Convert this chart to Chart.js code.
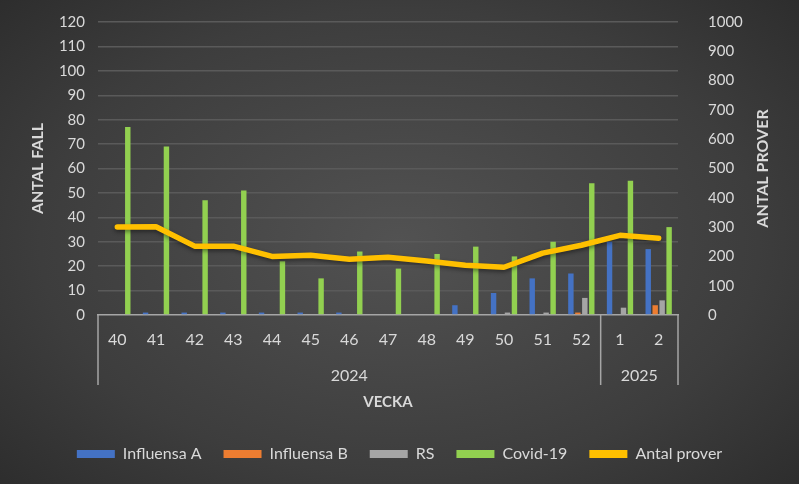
<!DOCTYPE html>
<html>
<head>
<meta charset="utf-8">
<script src="https://cdn.jsdelivr.net/npm/chart.js@4"></script>
<style>
  html, body { margin: 0; padding: 0; }
  body {
    width: 799px;
    height: 484px;
    background: radial-gradient(ellipse 75% 80% at 50% 50%, #525252 0%, #3d3d3d 60%, #292929 100%);
  }
  canvas { display: block; }
</style>
</head>
<body>
<canvas id="chart" width="799" height="484"></canvas>
<script>
// Veckor och år
const weeks = ['40', '41', '42', '43', '44', '45', '46', '47', '48', '49', '50', '51', '52', '1', '2'];
const years = ['2024', '2025'];
const weeksPerYear = [13, 2];

// Antal fall per vecka
const influensaA = [0, 1, 1, 1, 1, 1, 1, 0, 0, 4, 9, 15, 17, 30, 27];
const influensaB = [0, 0, 0, 0, 0, 0, 0, 0, 0, 0, 0, 0, 1, 0, 4];
const rs = [0, 0, 0, 0, 0, 0, 0, 0, 0, 0, 1, 1, 7, 3, 6];
const covid = [77, 69, 47, 51, 22, 15, 26, 19, 25, 28, 24, 30, 54, 55, 36];

// Antal prover (höger axel)
const antalProver = [300, 301, 235, 235, 200, 204, 190, 197, 184, 170, 163, 211, 238, 272, 262];

const textColor = '#d9d9d9';
const fontFamily = 'Lato, "Open Sans", sans-serif';

// Årsgrupper under veckorna + höger axeltitel
const yearGroups = {
  id: 'yearGroups',
  afterDraw(chart) {
    const { ctx, scales: { x }, chartArea } = chart;
    const half = (x.getPixelForValue(1) - x.getPixelForValue(0)) / 2;
    const top = chartArea.bottom;
    const bottom = top + 70;

    ctx.save();
    ctx.strokeStyle = '#a6a6a6';
    ctx.lineWidth = 1.5;
    ctx.fillStyle = textColor;
    ctx.font = '16px ' + fontFamily;
    ctx.textAlign = 'center';
    ctx.textBaseline = 'middle';

    let start = 0;
    let left = x.getPixelForValue(0) - half;
    ctx.beginPath();
    ctx.moveTo(left, top);
    ctx.lineTo(left, bottom);
    ctx.stroke();
    years.forEach((year, i) => {
      const end = start + weeksPerYear[i] - 1;
      const right = x.getPixelForValue(end) + half;
      ctx.beginPath();
      ctx.moveTo(right, top);
      ctx.lineTo(right, bottom);
      ctx.stroke();
      ctx.fillText(year, (left + right) / 2, top + 61);
      left = right;
      start = end + 1;
    });

    // ANTAL PROVER
    ctx.font = 'bold 16px ' + fontFamily;
    ctx.translate(763, (chartArea.top + chartArea.bottom) / 2);
    ctx.rotate(-Math.PI / 2);
    ctx.fillText('ANTAL PROVER', 0, 0);
    ctx.restore();
  }
};

const lineShadow = {
  id: 'lineShadow',
  beforeDatasetDraw(chart, args) {
    if (args.index !== 4) return;
    const ctx = chart.ctx;
    ctx.save();
    ctx.shadowColor = 'rgba(0,0,0,0.45)';
    ctx.shadowBlur = 4;
    ctx.shadowOffsetY = 2;
  },
  afterDatasetDraw(chart, args) {
    if (args.index !== 4) return;
    chart.ctx.restore();
  }
};

const barOpts = {
  categoryPercentage: 0.72,
  barPercentage: 0.78,
  yAxisID: 'y',
  order: 1
};

new Chart(document.getElementById('chart'), {
  type: 'bar',
  data: {
    labels: weeks,
    datasets: [
      { label: 'Influensa A', data: influensaA, backgroundColor: '#4472c4', ...barOpts },
      { label: 'Influensa B', data: influensaB, backgroundColor: '#ed7d31', ...barOpts },
      { label: 'RS', data: rs, backgroundColor: '#a5a5a5', ...barOpts },
      { label: 'Covid-19', data: covid, backgroundColor: '#92d050', ...barOpts },
      {
        type: 'line',
        label: 'Antal prover',
        data: antalProver,
        yAxisID: 'y1',
        borderColor: '#ffc000',
        backgroundColor: '#ffc000',
        borderWidth: 5.5,
        pointRadius: 0,
        tension: 0,
        borderCapStyle: 'round',
        borderJoinStyle: 'round',
        order: 0
      }
    ]
  },
  options: {
    responsive: false,
    animation: false,
    layout: { padding: { top: 22, left: 0, right: 0, bottom: 12 } },
    plugins: {
      legend: {
        position: 'bottom',
        labels: {
          color: textColor,
          font: { family: fontFamily, size: 16 },
          boxWidth: 38,
          boxHeight: 8,
          padding: 22,
          sort: (a, b) => a.datasetIndex - b.datasetIndex,
          generateLabels(chart) {
            const items = Chart.defaults.plugins.legend.labels.generateLabels(chart);
            items.forEach(it => { it.lineWidth = 0; });
            return items;
          }
        }
      },
      tooltip: { enabled: false }
    },
    scales: {
      x: {
        grid: { display: false, drawTicks: false },
        border: { color: '#a6a6a6', width: 1.5 },
        ticks: { color: textColor, font: { family: fontFamily, size: 16 }, padding: 15, maxRotation: 0 },
        title: {
          display: true,
          text: 'VECKA',
          color: textColor,
          font: { family: fontFamily, size: 15, weight: 'bold' },
          padding: { top: 0, bottom: 13 }
        },
        afterFit(scale) { scale.height = 109; }
      },
      y: {
        position: 'left',
        min: 0,
        max: 120,
        ticks: { stepSize: 10, color: textColor, font: { family: fontFamily, size: 15 }, padding: 13 },
        grid: {
          color: ctx => ctx.tick.value === 0 ? 'transparent' : '#5a5a5a',
          lineWidth: 1.5,
          drawTicks: false
        },
        border: { display: false },
        title: {
          display: true,
          text: 'ANTAL FALL',
          color: textColor,
          font: { family: fontFamily, size: 16, weight: 'bold' },
          padding: { top: 28, bottom: 0 }
        },
        afterFit(scale) {
          scale.width = 98;
          scale.paddingTop = 0;
          scale.paddingBottom = 0;
        }
      },
      y1: {
        position: 'right',
        min: 0,
        max: 1000,
        ticks: {
          stepSize: 100,
          color: textColor,
          font: { family: fontFamily, size: 15 },
          padding: 30,
          callback: v => String(v)
        },
        grid: { display: false, drawTicks: false },
        border: { display: false },
        afterFit(scale) {
          scale.width = 121;
          scale.paddingTop = 0;
          scale.paddingBottom = 0;
        }
      }
    }
  },
  plugins: [yearGroups, lineShadow]
});
</script>
</body>
</html>
